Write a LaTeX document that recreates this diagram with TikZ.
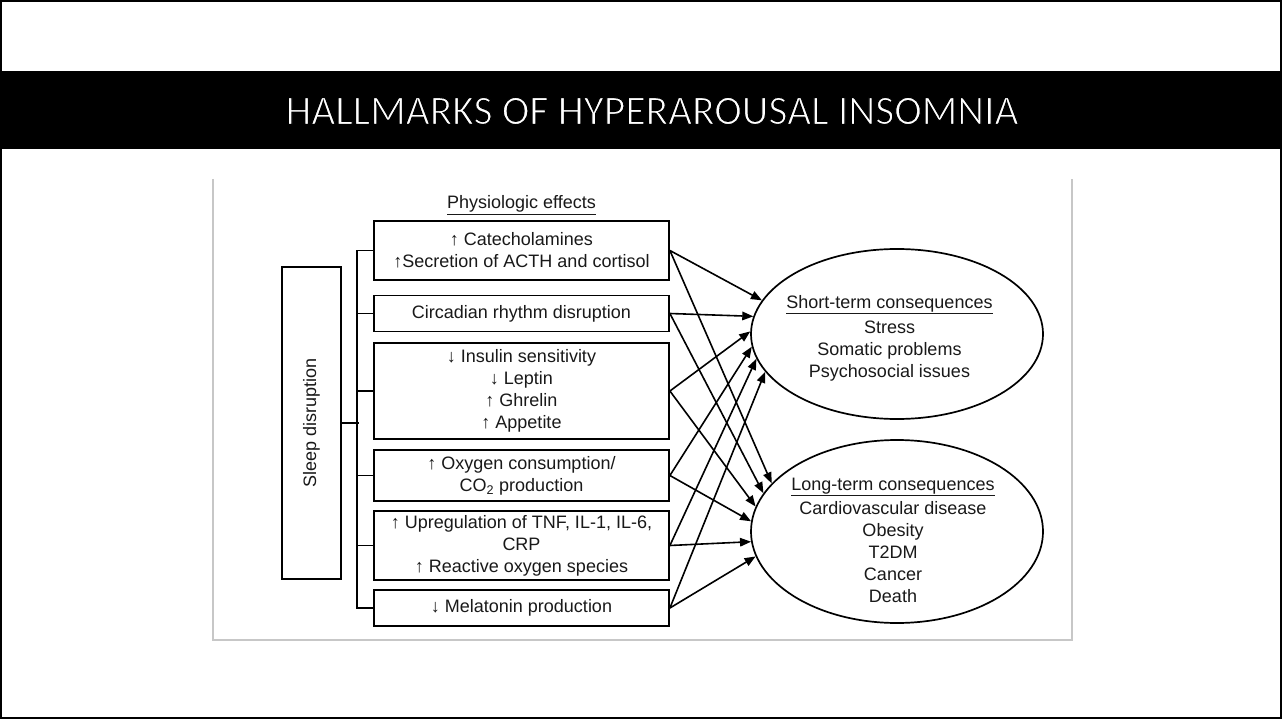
\documentclass[tikz,border=0pt]{standalone}
\usepackage{fontspec}
\setmainfont{Liberation Sans}
\newfontfamily\titlefont{Carlito}
\usetikzlibrary{arrows.meta,shapes.geometric}
\begin{document}
\begin{tikzpicture}[x=1pt,y=-1pt,
  txt/.style={inner sep=0pt,align=center,font=\fontsize{18}{22}\selectfont,text=black!90},
  box/.style={txt,draw,line width=1.8pt,minimum width=295pt},
  oval/.style={ellipse,draw,line width=1.7pt,inner sep=0pt,minimum width=292pt},
  conn/.style={line width=1.8pt},
  arr/.style={line width=1.6pt,-{Triangle[length=11pt,width=8.5pt]}}]
\useasboundingbox (0,0) rectangle (1282,719);
\fill[white] (0,0) rectangle (1282,719);
\draw[line width=2.5pt] (1,1) rectangle (1281,718);
\fill[black] (0,71) rectangle (1282,149);
\node[text=white,inner sep=0pt,font=\titlefont\fontsize{41.5}{48}\selectfont] (title) at (652,111) {\special{pdf:literal 2 Tr 1.1 w 0 0 0 RG}HALLMARKS OF HYPERAROUSAL INSOMNIA\special{pdf:literal 0 Tr}};
% picture frame
\draw[black!22,line width=1.2pt] (213,179) -- (213,640) -- (1072,640) -- (1072,179);
% heading
\node[txt] (phys) at (521.5,205) {\underline{Physiologic effects}};
% boxes
\node[box,minimum height=59pt] (b1) at (521.5,250.5) {↑ Catecholamines\\↑Secretion of ACTH and cortisol};
\node[box,minimum height=36pt] (b2) at (521.5,313.5) {Circadian rhythm disruption};
\node[box,minimum height=96pt] (b3) at (521.5,391) {↓ Insulin sensitivity\\↓ Leptin\\↑ Ghrelin\\↑ Appetite};
\node[box,minimum height=51pt] (b4) at (521.5,475.5) {↑ Oxygen consumption/\\CO\textsubscript{2} production};
\node[box,minimum height=69pt] (b5) at (521.5,545.5) {↑ Upregulation of TNF, IL-1, IL-6,\\CRP\\↑ Reactive oxygen species};
\node[box,minimum height=36pt] (b6) at (521.5,608) {↓ Melatonin production};
% sleep disruption
\node[draw,line width=1.8pt,minimum width=59pt,minimum height=312pt,inner sep=0pt] (sd) at (311.5,423) {};
\node[txt,rotate=90] (sdtext) at (sd.center) {Sleep disruption};
% bracket
\draw[conn] (b1.west) -- ++(-16,0) |- (b6.west);
\draw[conn] (b2.west) -- ++(-16,0);
\draw[conn] (b3.west) -- ++(-16,0);
\draw[conn] (b4.west) -- ++(-16,0);
\draw[conn] (b5.west) -- ++(-16,0);
\draw[conn] (sd.east) -- ++(17,0);
% ellipses
\node[oval,minimum height=170pt] (st) at (897,334) {};
\node[oval,minimum height=183pt] (lt) at (897,531.5) {};
\node[txt] (sttext) at (889.5,338) {\underline{Short-term consequences}\\[3pt]Stress\\Somatic problems\\Psychosocial issues};
\node[txt] (lttext) at (893,540) {\underline{Long-term consequences}\\[2pt]Cardiovascular disease\\Obesity\\T2DM\\Cancer\\Death};
% arrows to short-term
\draw[arr] (b1.east) -- (st.166);
\draw[arr] (b2.east) -- (st.173);
\draw[arr] (b3.east) -- (st.179);
\draw[arr] (b4.east) -- (st.185);
\draw[arr] (b5.east) -- (st.190);
\draw[arr] (b6.east) -- (st.196);
% arrows to long-term
\draw[arr] (b1.east) -- (lt.159);
\draw[arr] (b2.east) -- (lt.164.5);
\draw[arr] (b3.east) -- (lt.170.3);
\draw[arr] (b4.east) -- (lt.176.7);
\draw[arr] (b5.east) -- (lt.184);
\draw[arr] (b6.east) -- (lt.190);
\end{tikzpicture}
\end{document}
